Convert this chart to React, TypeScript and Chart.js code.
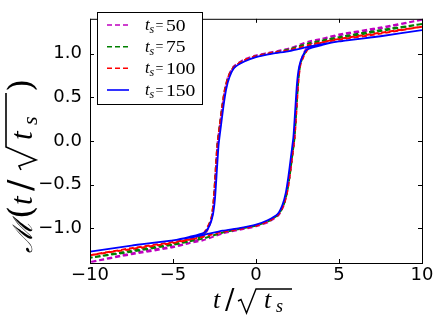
import React, { useEffect, useRef } from "react";
import { Chart, registerables } from "chart.js";
Chart.register(...registerables);

// axis ticks
const xTicks = [-10, -5, 0, 5, 10];
const xTickLabels = ["\u221210", "\u22125", "0", "5", "10"];
const yTicks = [-1.0, -0.5, 0.0, 0.5, 1.0];
const yTickLabels = ["\u22121.0", "\u22120.5", "0.0", "0.5", "1.0"];

// t / sqrt(t_s) grids: upper branch (field decreasing) and lower branch (field increasing)
const tUpSolid = [10, 7.5, 5, 4, 3.2, 2, 1, 0, -0.7, -1.3, -1.6, -1.8, -1.95, -2.1, -2.25, -2.35, -2.47, -2.6, -2.8, -3.1, -4, -5, -7.5, -10];
const tLowSolid = [-10, -7.5, -5, -4, -3.2, -2, -1, 0, 0.7, 1.3, 1.6, 1.8, 1.95, 2.1, 2.25, 2.35, 2.47, 2.6, 2.8, 3.1, 4, 5, 7.5, 10];
const tUpDashed = [10, 7.5, 5, 4, 3.2, 2, 1, 0, -0.75, -1.36, -1.67, -1.87, -2.02, -2.17, -2.32, -2.42, -2.54, -2.67, -2.87, -3.17, -4, -5, -7.5, -10];
const tLowDashed = [-10, -7.5, -5, -4, -3.2, -2, -1, 0, 0.75, 1.36, 1.67, 1.87, 2.02, 2.17, 2.32, 2.42, 2.54, 2.67, 2.87, 3.17, 4, 5, 7.5, 10];

// M values, t_s = 50
const mUp50 = [1.39, 1.29, 1.21, 1.17, 1.14, 1.06, 1.02, 0.98, 0.93, 0.85, 0.74, 0.59, 0.41, 0.19, -0.04, -0.32, -0.68, -0.89, -1.0, -1.1, -1.17, -1.22, -1.3, -1.39];
const mLow50 = [-1.39, -1.29, -1.21, -1.17, -1.14, -1.06, -1.02, -0.98, -0.93, -0.85, -0.74, -0.59, -0.41, -0.19, 0.04, 0.32, 0.68, 0.89, 1.0, 1.1, 1.17, 1.22, 1.3, 1.39];
// t_s = 75
const mUp75 = [1.34, 1.26, 1.18, 1.15, 1.12, 1.05, 1.01, 0.97, 0.92, 0.84, 0.73, 0.59, 0.41, 0.19, -0.04, -0.32, -0.67, -0.88, -0.98, -1.08, -1.15, -1.19, -1.27, -1.34];
const mLow75 = [-1.34, -1.26, -1.18, -1.15, -1.12, -1.05, -1.01, -0.97, -0.92, -0.84, -0.73, -0.59, -0.41, -0.19, 0.04, 0.32, 0.67, 0.88, 0.98, 1.08, 1.15, 1.19, 1.27, 1.34];
// t_s = 100
const mUp100 = [1.31, 1.23, 1.16, 1.13, 1.1, 1.04, 1.01, 0.97, 0.92, 0.84, 0.73, 0.59, 0.41, 0.19, -0.04, -0.32, -0.67, -0.87, -0.97, -1.06, -1.13, -1.17, -1.24, -1.31];
const mLow100 = [-1.31, -1.23, -1.16, -1.13, -1.1, -1.04, -1.01, -0.97, -0.92, -0.84, -0.73, -0.59, -0.41, -0.19, 0.04, 0.32, 0.67, 0.87, 0.97, 1.06, 1.13, 1.17, 1.24, 1.31];
// t_s = 150
const mUp150 = [1.27, 1.2, 1.14, 1.11, 1.08, 1.03, 1.0, 0.96, 0.91, 0.84, 0.73, 0.59, 0.41, 0.19, -0.04, -0.32, -0.66, -0.85, -0.97, -1.05, -1.1, -1.14, -1.2, -1.27];
const mLow150 = [-1.27, -1.2, -1.14, -1.11, -1.08, -1.03, -1.0, -0.96, -0.91, -0.84, -0.73, -0.59, -0.41, -0.19, 0.04, 0.32, 0.66, 0.85, 0.97, 1.05, 1.1, 1.14, 1.2, 1.27];

const seriesLabels = ["50", "75", "100", "150"];
const seriesColors = ["#bf00bf", "#008000", "#ff0000", "#0000ff"];

function loop(tUp: number[], mUp: number[], tLow: number[], mLow: number[]) {
  const pts = tUp.map((t, i) => ({ x: t, y: mUp[i] }));
  return pts.concat(tLow.map((t, i) => ({ x: t, y: mLow[i] })));
}

const SERIF = "'Liberation Serif', 'DejaVu Serif', serif";
const SERIF2 = "'DejaVu Serif', serif";
const SANS = "'DejaVu Sans', sans-serif";

// draw text squeezed/stretched to a given advance width
function fitText(ctx: CanvasRenderingContext2D, s: string, x: number, y: number, w: number) {
  const m = ctx.measureText(s).width;
  ctx.save();
  ctx.translate(x, y);
  ctx.scale(w / m, 1);
  ctx.fillText(s, 0, 0);
  ctx.restore();
}

const decorPlugin = {
  id: "decor",
  afterDraw(chart: any) {
    const ctx = chart.ctx as CanvasRenderingContext2D;
    const a = chart.chartArea;
    const xs = chart.scales.x;
    const ys = chart.scales.y;
    ctx.save();
    // frame
    ctx.strokeStyle = "#000";
    ctx.lineWidth = 1;
    ctx.setLineDash([]);
    ctx.strokeRect(a.left + 0.5, a.top + 0.5, a.right - a.left, a.bottom - a.top);
    // inward ticks on all sides
    ctx.beginPath();
    xTicks.forEach((v) => {
      const px = Math.round(xs.getPixelForValue(v)) + 0.5;
      ctx.moveTo(px, a.bottom);
      ctx.lineTo(px, a.bottom - 4);
      ctx.moveTo(px, a.top);
      ctx.lineTo(px, a.top + 4);
    });
    yTicks.forEach((v) => {
      const py = Math.round(ys.getPixelForValue(v)) + 0.5;
      ctx.moveTo(a.left, py);
      ctx.lineTo(a.left + 4, py);
      ctx.moveTo(a.right, py);
      ctx.lineTo(a.right - 4, py);
    });
    ctx.stroke();

    // legend
    const lx = 97.5, ly = 12.5, lw = 105, lh = 92;
    ctx.fillStyle = "#fff";
    ctx.fillRect(lx, ly, lw, lh);
    ctx.strokeStyle = "#000";
    ctx.strokeRect(lx, ly, lw, lh);
    const rowY = [25, 46.7, 68.3, 90];
    seriesLabels.forEach((lab, i) => {
      const y = rowY[i];
      ctx.strokeStyle = seriesColors[i];
      ctx.lineWidth = 1.6;
      ctx.setLineDash(i === 3 ? [] : [5, 3]);
      ctx.beginPath();
      ctx.moveTo(107, y);
      ctx.lineTo(129, y);
      ctx.stroke();
      ctx.setLineDash([]);
      ctx.fillStyle = "#000";
      ctx.textBaseline = "alphabetic";
      ctx.textAlign = "left";
      ctx.font = "italic 17px " + SERIF;
      ctx.fillText("t", 145, y + 5);
      ctx.font = "italic 12px " + SERIF;
      ctx.fillText("s", 149.5, y + 8);
      ctx.font = "14px " + SERIF;
      ctx.fillText("=", 155.5, y + 4.5);
      ctx.font = "17px " + SERIF;
      fitText(ctx, lab, 166, y + 5.5, lab.length * 9.8);
    });

    // x axis label  t / sqrt(t_s)
    ctx.fillStyle = "#000";
    ctx.strokeStyle = "#000";
    ctx.textAlign = "left";
    ctx.textBaseline = "alphabetic";
    ctx.font = "italic 26px " + SERIF;
    ctx.fillText("t", 213, 308);
    ctx.font = "28px " + SERIF2;
    ctx.fillText("/", 225, 309);
    ctx.lineWidth = 1.4;
    ctx.beginPath();
    ctx.moveTo(238, 301);
    ctx.lineTo(241, 299.5);
    ctx.lineTo(246.5, 313);
    ctx.lineTo(256, 289);
    ctx.lineTo(292, 289);
    ctx.stroke();
    ctx.font = "italic 26px " + SERIF;
    ctx.fillText("t", 264, 308);
    ctx.font = "italic 18px " + SERIF;
    ctx.fillText("s", 276, 312);

    // y axis label  M(t / sqrt(t_s))
    ctx.save();
    ctx.translate(32, 253);
    ctx.rotate(-Math.PI / 2);
    ctx.font = "italic 27px " + SERIF;
    fitText(ctx, "\u2133", 0, 0, 32);
    ctx.font = "34px " + SERIF2;
    ctx.fillText("(", 34, 0);
    ctx.font = "italic 31px " + SERIF;
    ctx.fillText("t", 48, 0);
    ctx.font = "34px " + SERIF2;
    ctx.fillText("/", 62, 0);
    ctx.lineWidth = 1.6;
    ctx.beginPath();
    ctx.moveTo(83, -11);
    ctx.lineTo(87, -13);
    ctx.lineTo(93, 4);
    ctx.lineTo(106, -26);
    ctx.lineTo(160, -26);
    ctx.stroke();
    ctx.font = "italic 31px " + SERIF;
    ctx.fillText("t", 113, 0);
    ctx.font = "italic 22px " + SERIF;
    ctx.fillText("s", 128, 5);
    ctx.font = "34px " + SERIF2;
    ctx.fillText(")", 161, 0);
    ctx.restore();

    ctx.restore();
  },
};

export default function App() {
  const ref = useRef<HTMLCanvasElement>(null);
  useEffect(() => {
    const canvas = ref.current!;
    const dataSets = [
      loop(tUpDashed, mUp50, tLowDashed, mLow50),
      loop(tUpDashed, mUp75, tLowDashed, mLow75),
      loop(tUpDashed, mUp100, tLowDashed, mLow100),
      loop(tUpSolid, mUp150, tLowSolid, mLow150),
    ];
    const chart = new Chart(canvas, {
      type: "scatter",
      data: {
        datasets: dataSets.map((d, i) => ({
          label: "ts=" + seriesLabels[i],
          data: d,
          showLine: true,
          borderColor: seriesColors[i],
          backgroundColor: seriesColors[i],
          borderWidth: i === 3 ? 1.8 : 2,
          borderDash: i === 3 ? [] : [5, 3],
          pointRadius: 0,
          tension: 0.2,
          fill: false,
          order: 3 - i,
        })),
      },
      options: {
        responsive: false,
        animation: false,
        devicePixelRatio: 1,
        layout: { autoPadding: false, padding: { top: 5, right: 18, left: 0, bottom: 0 } },
        plugins: { legend: { display: false }, tooltip: { enabled: false } },
        events: [],
        scales: {
          x: {
            type: "linear",
            min: -10,
            max: 10,
            afterBuildTicks: (s: any) => {
              s.ticks = xTicks.map((v) => ({ value: v }));
            },
            afterFit: (s: any) => {
              s.height = 63;
            },
            ticks: {
              callback: (_v: any, i: number) => xTickLabels[i],
              font: { family: SANS, size: 18 },
              color: "#000",
              padding: 2,
              maxRotation: 0,
              autoSkip: false,
            },
            grid: { display: false, drawTicks: false },
            border: { display: false },
          },
          y: {
            type: "linear",
            min: -1.4,
            max: 1.4,
            afterBuildTicks: (s: any) => {
              s.ticks = yTicks.map((v) => ({ value: v }));
            },
            afterFit: (s: any) => {
              s.width = 90;
            },
            ticks: {
              callback: (_v: any, i: number) => yTickLabels[i],
              font: { family: SANS, size: 18 },
              color: "#000",
              padding: 8,
              autoSkip: false,
            },
            grid: { display: false, drawTicks: false },
            border: { display: false },
          },
        },
      },
      plugins: [decorPlugin],
    } as any);
    return () => chart.destroy();
  }, []);
  return (
    <div style={{ position: "absolute", left: 0, top: 0, width: 440, height: 326, background: "#fff" }}>
      <canvas ref={ref} width={440} height={326} style={{ display: "block" }} />
    </div>
  );
}
